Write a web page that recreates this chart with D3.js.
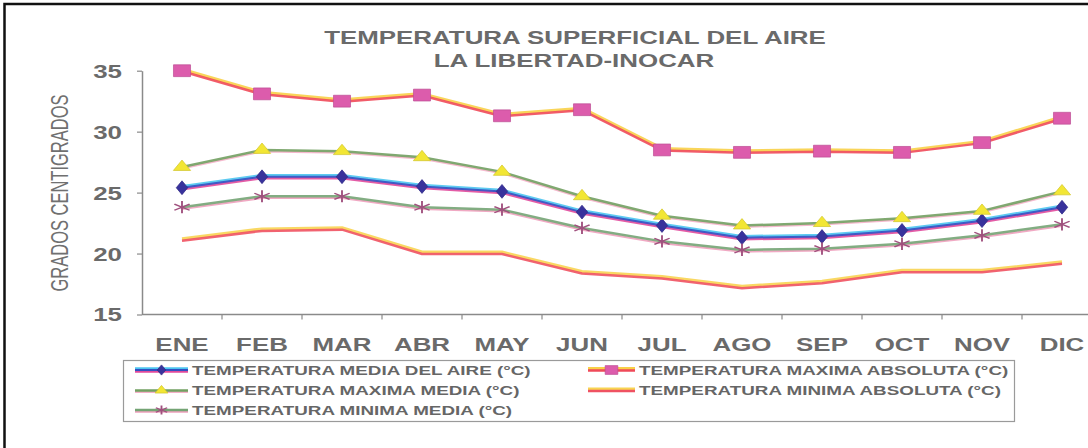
<!DOCTYPE html>
<html>
<head>
<meta charset="utf-8">
<script src="https://cdn.jsdelivr.net/npm/d3@7"></script>
<style>
  html, body { margin: 0; padding: 0; background: #fff; }
  svg { display: block; font-family: "Liberation Sans", Arial, sans-serif; }
</style>
</head>
<body>
<svg id="chart" width="1088" height="448"></svg>
<script>
var MONTHS = ["ENE", "FEB", "MAR", "ABR", "MAY", "JUN", "JUL", "AGO", "SEP", "OCT", "NOV", "DIC"];
var Y_TICKS = [15, 20, 25, 30, 35];

var MEDIA_AIRE = [25.4, 26.3, 26.3, 25.5, 25.1, 23.4, 22.3, 21.3, 21.4, 21.9, 22.7, 23.8];
var MAX_ABSOLUTA = [35.0, 33.1, 32.5, 33.0, 31.3, 31.8, 28.5, 28.3, 28.4, 28.3, 29.1, 31.1];
var MAX_MEDIA = [27.1, 28.5, 28.4, 27.9, 26.7, 24.7, 23.1, 22.3, 22.5, 22.9, 23.5, 25.1];
var MIN_MEDIA = [23.8, 24.7, 24.7, 23.8, 23.6, 22.1, 21.0, 20.3, 20.4, 20.8, 21.5, 22.4];
var MIN_ABSOLUTA = [21.1, 21.9, 22.0, 20.0, 20.0, 18.4, 18.0, 17.2, 17.6, 18.5, 18.5, 19.2];

// the scanned chart is stretched sideways, text and markers follow this factor
var SX = 1.44;
var TEXT_COLOR = "#6a6a6a";

var SERIES = [
    { name: "TEMPERATURA MEDIA DEL AIRE (°C)", values: MEDIA_AIRE,
      strokes: [["#4cc4f0", -1.5, 2.5], ["#e04a9c", 1.5, 2.5], ["#3150c2", 0, 2]],
      symbol: d3.symbolDiamond, size: 55, fill: "#38329c", legend: [0, 0] },
    { name: "TEMPERATURA MAXIMA ABSOLUTA (°C)", values: MAX_ABSOLUTA,
      strokes: [["#f8d048", -1.5, 3], ["#ef4a5a", 0.5, 2.5]],
      symbol: d3.symbolSquare, size: 140, fill: "#dc5cac", legend: [1, 0] },
    { name: "TEMPERATURA MAXIMA MEDIA (°C)", values: MAX_MEDIA,
      strokes: [["#f4b0c8", 1.5, 2], ["#72a062", 0, 2.5]],
      symbol: d3.symbolTriangle, size: 62, fill: "#f2e634", legend: [0, 1] },
    { name: "TEMPERATURA MINIMA ABSOLUTA (°C)", values: MIN_ABSOLUTA,
      strokes: [["#f8d452", -1.5, 3], ["#ef5262", 0.5, 2.5]],
      symbol: null, legend: [1, 1] },
    { name: "TEMPERATURA MINIMA MEDIA (°C)", values: MIN_MEDIA,
      strokes: [["#eea0bc", 1.8, 2], ["#74a474", 0, 2.5]],
      symbol: d3.symbolAsterisk, size: 105, stroke: "#a0507e", legend: [0, 2] }
];

var LEGEND_COLS = [{ x0: 135, x1: 188 }, { x0: 588, x1: 635 }];
var LEGEND_ROWS = [370, 390.5, 410];

var svg = d3.select("#chart");

// frame (runs past the right and bottom edges like the crop)
svg.append("rect").attr("x", 4.5).attr("y", 4).attr("width", 1110).attr("height", 470)
    .attr("fill", "none").attr("stroke", "#111").attr("stroke-width", 2.5);

function stretched(sel, x, y) {
    return sel.attr("transform", "translate(" + x + "," + y + ") scale(" + SX + ",1)");
}

// title
stretched(svg.append("text"), 575, 44).attr("text-anchor", "middle")
    .attr("font-size", 18).attr("font-weight", "bold").attr("fill", TEXT_COLOR)
    .text("TEMPERATURA SUPERFICIAL DEL AIRE");
stretched(svg.append("text"), 574, 66.5).attr("text-anchor", "middle")
    .attr("font-size", 18).attr("font-weight", "bold").attr("fill", TEXT_COLOR)
    .text("LA LIBERTAD-INOCAR");

var xBand = d3.scaleBand().domain(MONTHS).range([142, 1102]);
var y = d3.scaleLinear().domain([15, 35]).range([314.5, 70.7]);
var xc = function (i) { return xBand(MONTHS[i]) + xBand.bandwidth() / 2; };

// y axis
var yAxisG = svg.append("g").attr("transform", "translate(142,0)")
    .call(d3.axisLeft(y).tickValues(Y_TICKS).tickSize(5).tickSizeOuter(0));
yAxisG.select(".domain").attr("stroke", "#8a8a8a").attr("stroke-width", 1.5);
yAxisG.selectAll(".tick line").attr("stroke", "#8a8a8a").attr("stroke-width", 1.2);
yAxisG.selectAll(".tick text")
    .attr("x", -20 / SX).attr("dy", "0.36em")
    .attr("transform", "scale(" + SX + ",1)")
    .attr("font-size", 18).attr("font-weight", "bold").attr("fill", TEXT_COLOR)
    .attr("font-family", "Liberation Sans, Arial, sans-serif");

// x axis: ticks between categories, labels at centres
svg.append("line").attr("x1", 142).attr("x2", 1102).attr("y1", y(15)).attr("y2", y(15))
    .attr("stroke", "#8a8a8a").attr("stroke-width", 1.5);
svg.append("g").selectAll("line").data(MONTHS.slice(1)).enter().append("line")
    .attr("x1", function (d) { return xBand(d); }).attr("x2", function (d) { return xBand(d); })
    .attr("y1", y(15)).attr("y2", y(15) + 5)
    .attr("stroke", "#8a8a8a").attr("stroke-width", 1.2);
svg.append("g").selectAll("text").data(MONTHS).enter().append("text")
    .attr("transform", function (d, i) {
        return "translate(" + xc(i) + "," + (y(15) + 36) + ") scale(" + SX + ",1)";
    })
    .attr("text-anchor", "middle").attr("font-size", 18).attr("font-weight", "bold")
    .attr("fill", TEXT_COLOR).text(function (d) { return d; });

// y axis title
svg.append("text")
    .attr("transform", "translate(68,193) scale(" + SX + ",1) rotate(-90)")
    .attr("text-anchor", "middle").attr("font-size", 16.5).attr("fill", "#707070")
    .text("GRADOS CENTIGRADOS");

function drawMarker(g, s, px, py) {
    if (!s.symbol) return;
    var m = g.append("path")
        .attr("d", d3.symbol().type(s.symbol).size(s.size)())
        .attr("transform", "translate(" + px + "," + py + ") scale(" + SX + ",1)");
    if (s.symbol === d3.symbolAsterisk) {
        m.attr("fill", "none").attr("stroke", s.stroke).attr("stroke-width", 1.3);
    } else {
        m.attr("fill", s.fill).attr("stroke", d3.color(s.fill).darker(0.4)).attr("stroke-width", 0.6);
    }
}

// series
SERIES.forEach(function (s) {
    var g = svg.append("g");
    s.strokes.forEach(function (st) {
        var line = d3.line()
            .x(function (d, i) { return xc(i); })
            .y(function (d) { return y(d) + st[1]; });
        g.append("path").datum(s.values).attr("d", line)
            .attr("fill", "none").attr("stroke", st[0]).attr("stroke-width", st[2])
            .attr("stroke-linejoin", "round").attr("opacity", 0.9);
    });
    s.values.forEach(function (v, i) { drawMarker(g, s, xc(i), y(v)); });
});

// legend
svg.append("rect").attr("x", 123.5).attr("y", 360.5).attr("width", 891).attr("height", 61)
    .attr("fill", "none").attr("stroke", "#9a9a9a").attr("stroke-width", 1.2);

SERIES.forEach(function (s) {
    var col = LEGEND_COLS[s.legend[0]];
    var ry = LEGEND_ROWS[s.legend[1]];
    var g = svg.append("g");
    s.strokes.forEach(function (st) {
        g.append("line").attr("x1", col.x0).attr("x2", col.x1)
            .attr("y1", ry + st[1]).attr("y2", ry + st[1])
            .attr("stroke", st[0]).attr("stroke-width", st[2]);
    });
    var ms = Object.assign({}, s, { size: s.size * 0.55 });
    drawMarker(g, ms, (col.x0 + col.x1) / 2, ry);
    stretched(g.append("text"), col.x1 + 4, ry + 4.5)
        .attr("font-size", 13.1).attr("font-weight", "bold").attr("fill", "#666")
        .text(s.name);
});
</script>
</body>
</html>
